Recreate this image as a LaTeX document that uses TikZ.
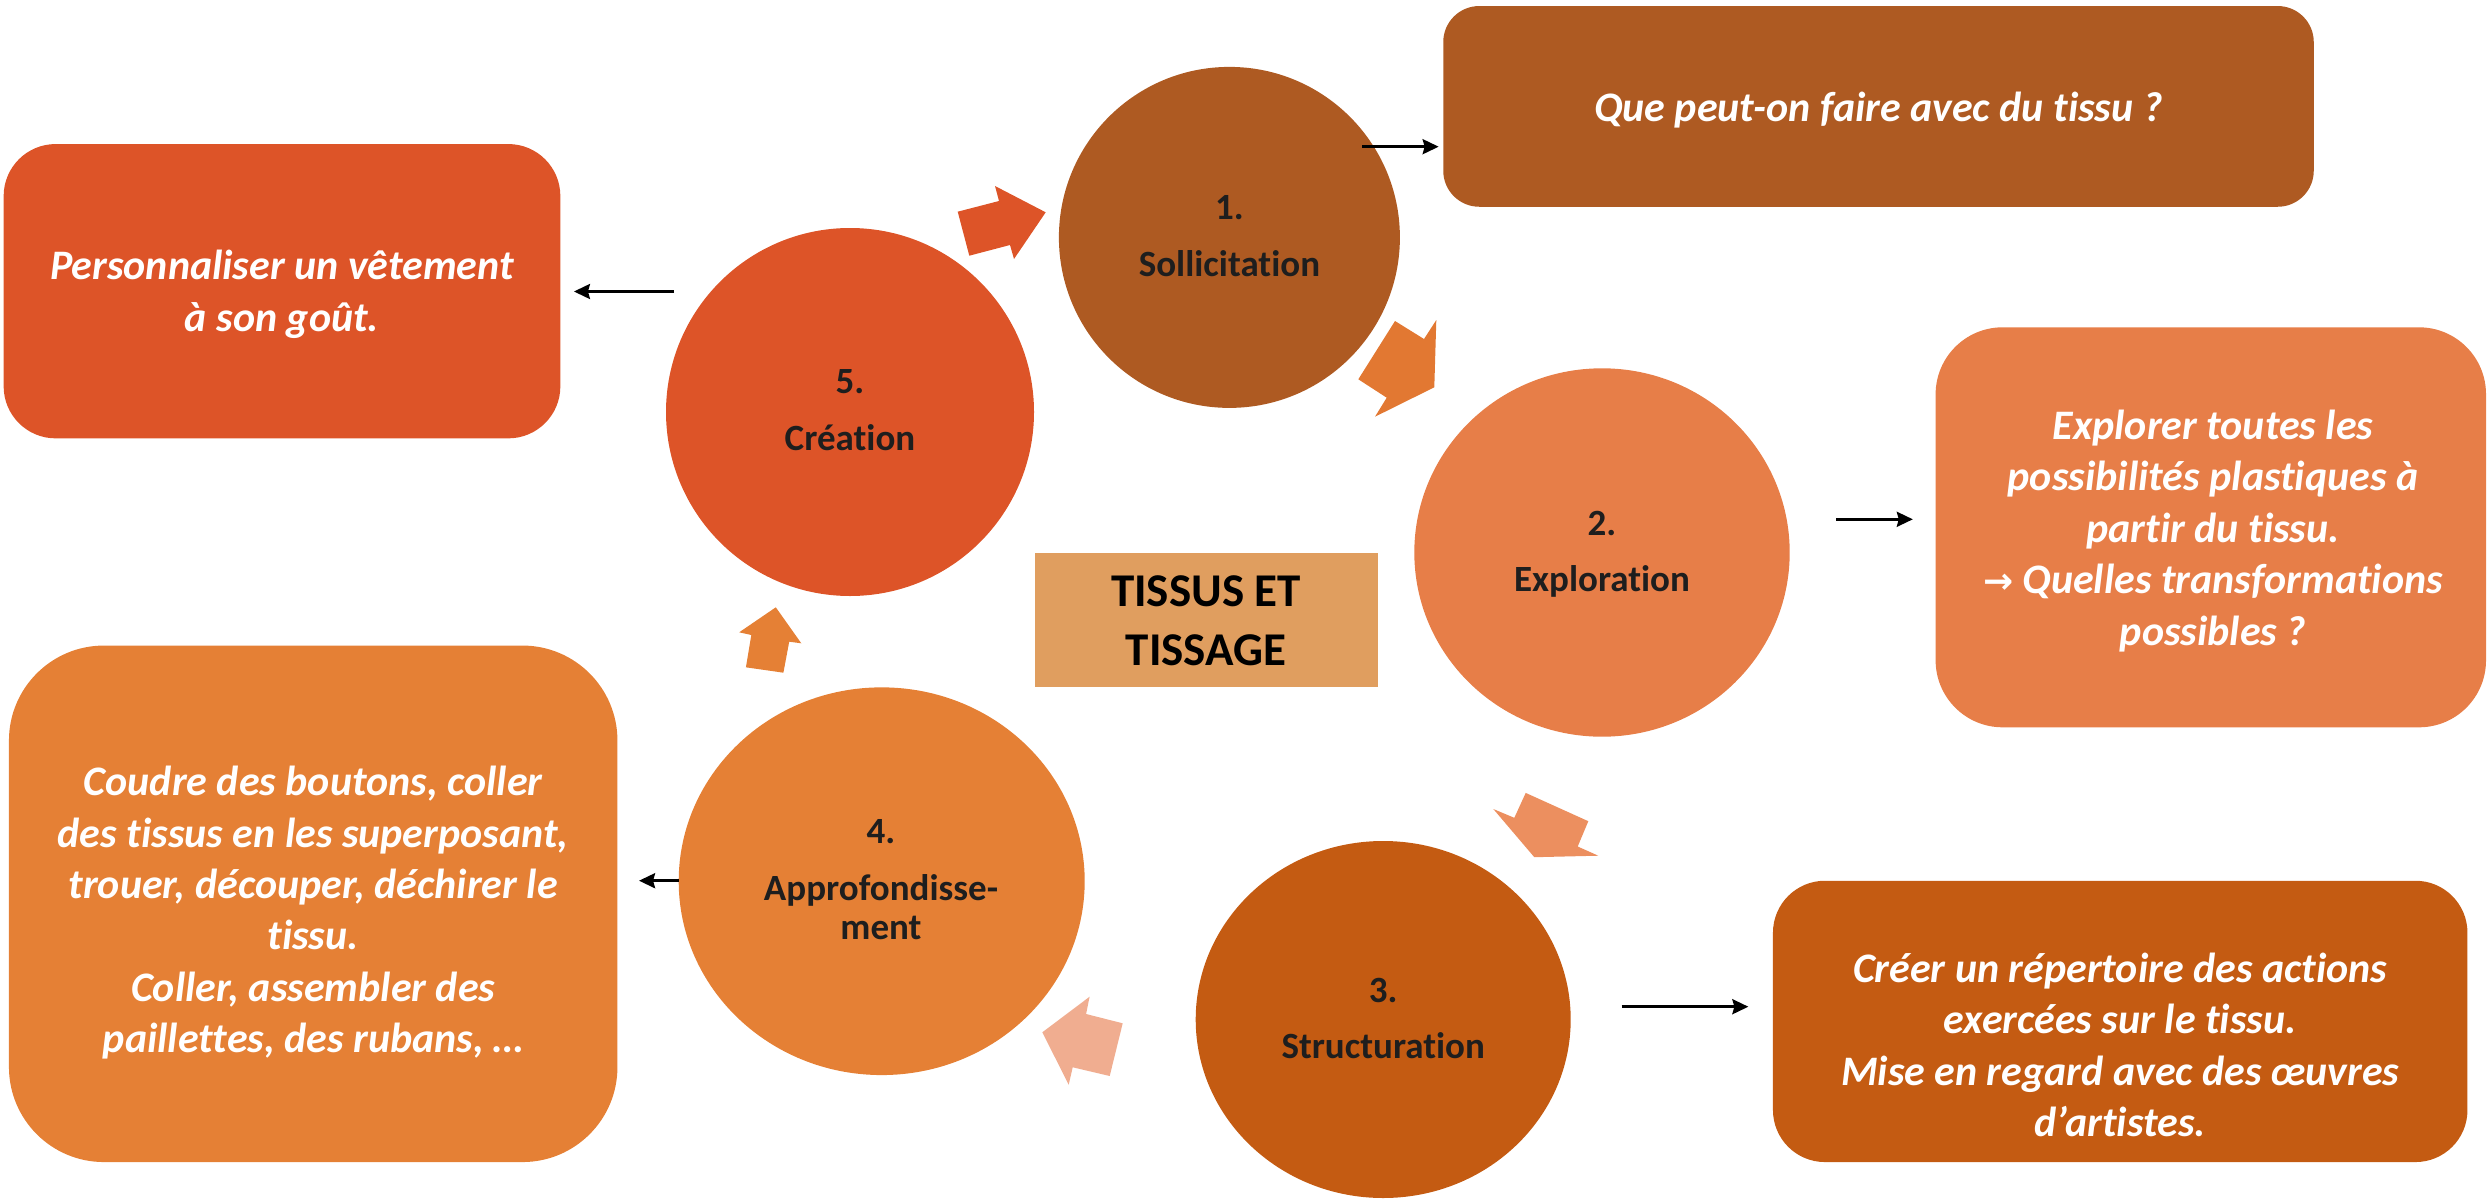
\documentclass[tikz,border=0pt]{standalone}
\usepackage{fontspec}
\setmainfont{Carlito}[Ligatures={NoCommon}]
\newfontfamily\arrowfont{DejaVu Sans}
\usetikzlibrary{shapes.geometric,arrows.meta}
\definecolor{colA}{HTML}{AE5A22}
\definecolor{colB}{HTML}{E77E48}
\definecolor{colC}{HTML}{C45B12}
\definecolor{colD}{HTML}{E58035}
\definecolor{colE}{HTML}{DD5428}
\definecolor{colM}{HTML}{E09E5F}
\definecolor{arr12}{HTML}{E27832}
\definecolor{arr23}{HTML}{EC8F5F}
\definecolor{arr34}{HTML}{F0AD90}
\definecolor{txtdark}{HTML}{1E1E1E}
\begin{document}
\begin{tikzpicture}[x=1pt,y=-1pt,
  circ/.style={ellipse,inner sep=0pt,draw=none},
  rbox/.style={rectangle,inner sep=0pt,draw=none},
  ctext/.style={font=\bfseries\fontsize{37}{39.3}\selectfont,text=txtdark,align=center,inner sep=0pt},
  btext/.style={font=\bfseries\itshape\fontsize{42}{51.4}\selectfont,text=white,align=center,inner sep=0pt},
  conn/.style={line width=2.7pt,-{Stealth[length=16pt,width=15pt,inset=2pt]}}
]
\useasboundingbox (0,0) rectangle (2489,1199);

% circles
\node[circ,fill=colA,minimum width=341pt,minimum height=341pt] (c1) at (1229.4,237.4) {};
\node[circ,fill=colB,minimum width=375.4pt,minimum height=368.4pt] (c2) at (1602,552.5) {};
\node[circ,fill=colC,minimum width=375pt,minimum height=357pt] (c3) at (1383.2,1019.5) {};
\node[circ,fill=colD,minimum width=406pt,minimum height=387.7pt] (c4) at (881.7,881.2) {};
\node[circ,fill=colE,minimum width=368pt,minimum height=368pt] (c5) at (850,412) {};

% block arrows of the cycle
\fill[colE] (969.3,255.7) -- (957.7,211.7) -- (999,201) -- (995,186) -- (1045.7,212.3) -- (1014,259) -- (1010,245) -- cycle;
\fill[arr12] (1395,321) -- (1424,339) -- (1436.3,320) -- (1434.3,387.3) -- (1375,416.7) -- (1386.7,397.7) -- (1358.3,379.3) -- cycle;
\fill[arr23] (1525.7,792.9) -- (1588.3,821.2) -- (1577.7,846.5) -- (1598.3,855.7) -- (1534.3,857.2) -- (1493.3,809) -- (1514.3,817.8) -- cycle;
\fill[arr34] (1089.6,996.7) -- (1086.1,1014) -- (1122.7,1023.3) -- (1109.7,1076) -- (1072.7,1067.3) -- (1068.7,1084.7) -- (1042.3,1032.3) -- cycle;
\fill[colD] (775.8,607.3) -- (801.3,643.3) -- (789.2,641.7) -- (783.4,672.7) -- (745.9,667.3) -- (751.3,635) -- (739.2,632.3) -- cycle;

% boxes
\node[rbox,fill=colA,rounded corners=36pt,minimum width=870.5pt,minimum height=200.7pt] (bA) at (1878.5,106.4) {};
\node[rbox,fill=colB,rounded corners=67pt,minimum width=550.4pt,minimum height=400pt] (bB) at (2210.8,527.3) {};
\node[rbox,fill=colC,rounded corners=52pt,minimum width=694.5pt,minimum height=281.3pt] (bC) at (2120.2,1021.4) {};
\node[rbox,fill=colD,rounded corners=95pt,minimum width=608.5pt,minimum height=516.5pt] (bD) at (313.2,903.8) {};
\node[rbox,fill=colE,rounded corners=52pt,minimum width=556.7pt,minimum height=294.3pt] (bE) at (282,291.2) {};
\node[rbox,fill=colM,minimum width=342.7pt,minimum height=134.9pt] (bM) at (1206.4,620) {};

% circle texts
\node[ctext] (t1) at (1229.4,236.3) {1.\\[17.4pt]Sollicitation};
\node[ctext] (t2) at (1602,554.4) {2.\\[17.4pt]Exploration};
\node[ctext] (t3) at (1383.2,1018.6) {3.\\[16.7pt]Structuration};
\node[ctext] (t4) at (881,879.6) {4.\\[17.4pt]Approfondisse-\\ment};
\node[ctext] (t5) at (850,410) {5.\\[17.4pt]Création};

% box texts
\node[btext] (tA) at (1878.5,110) {Que peut-on faire avec du tissu ?};
\node[btext] (tB) at (2213,530.8) {Explorer toutes les\\possibilités plastiques à\\partir du tissu.\\{\arrowfont\bfseries\fontsize{36}{51.4}\selectfont →} Quelles transformations\\possibles ?};
\node[btext] (tC) at (2120.2,1044.9) {Créer un répertoire des actions\\exercées sur le tissu.\\Mise en regard avec des œuvres\\d’artistes.};
\node[btext] (tD) at (313.2,912.7) {Coudre des boutons, coller\\des tissus en les superposant,\\trouer, découper, déchirer le\\tissu.\\Coller, assembler des\\paillettes, des rubans, …};
\node[btext] (tE) at (282,294.4) {Personnaliser un vêtement\\à son goût.};
\node[font=\bfseries\fontsize{47}{58.3}\selectfont,align=center,inner sep=0pt,text=black] (tM) at (1206,620.7) {TISSUS ET\\TISSAGE};

% connectors
\coordinate (sA) at (1362.3,146.7);
\coordinate (sB) at (1836,519.3);
\coordinate (sC) at (1621.5,1006.7);
\coordinate (sD) at (678.6,880.7);
\coordinate (sE) at (674,291.5);
\draw[conn,shorten >=4.4pt] (sA) -- (bA.west |- sA);
\draw[conn,shorten >=22.6pt] (sB) -- (bB.west |- sB);
\draw[conn,shorten >=24.4pt] (sC) -- (bC.west |- sC);
\draw[conn,shorten >=21.4pt] (sD) -- (bD.east |- sD);
\draw[conn,shorten >=13.4pt] (sE) -- (bE.east |- sE);
\end{tikzpicture}
\end{document}
